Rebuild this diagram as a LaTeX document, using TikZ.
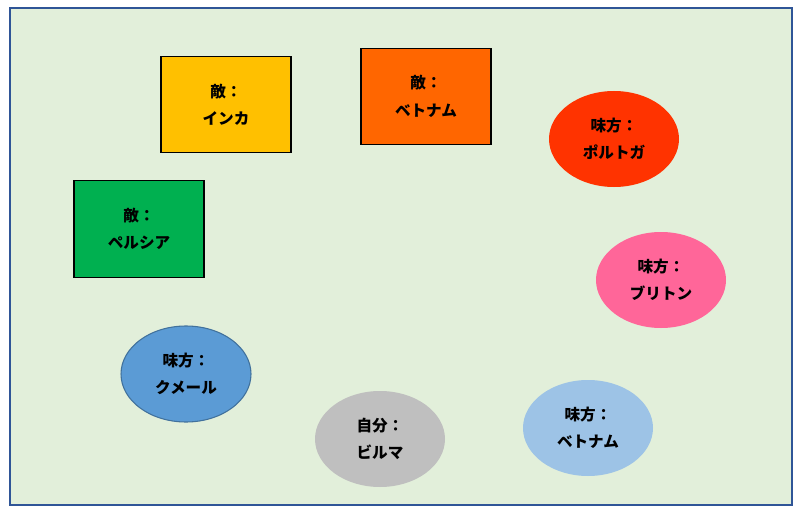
\documentclass[tikz,border=0pt]{standalone}
\usepackage{fontspec}
\setmainfont{Noto Sans CJK JP}
\usetikzlibrary{shapes.geometric}
\definecolor{bgfill}{HTML}{E2EFDA}
\definecolor{bgline}{HTML}{2F5597}
\definecolor{cinca}{HTML}{FFC000}
\definecolor{cviet}{HTML}{FF6600}
\definecolor{cpers}{HTML}{00B050}
\definecolor{cport}{HTML}{FF3300}
\definecolor{cbrit}{HTML}{FF6699}
\definecolor{ckhm}{HTML}{5B9BD5}
\definecolor{ckhmline}{HTML}{41719C}
\definecolor{cbur}{HTML}{BFBFBF}
\definecolor{cvt2}{HTML}{9DC3E6}
\tikzset{
  lbl/.style={align=center, font=\fontsize{11.7}{20.5}\selectfont\bfseries, text=black},
  enemy/.style={lbl, rectangle, draw=black, line width=0.9pt, minimum width=97.5pt, minimum height=72.5pt, inner sep=0pt},
  ally/.style={lbl, ellipse, minimum width=97.5pt, minimum height=72pt, inner sep=0pt}
}
\begin{document}
\begin{tikzpicture}[x=0.75pt,y=-0.75pt]
\useasboundingbox (0,0) rectangle (800,510);
\node[draw=bgline, fill=bgfill, line width=1pt, rectangle, minimum width=586.5pt, minimum height=372.75pt, inner sep=0pt] (bg) at (401,256.5) {};
\node[enemy, fill=cinca] (inca) at (226,104.5) {敵：\\インカ};
\node[enemy, fill=cviet] (vietE) at (426,96.5) {敵：\\ベトナム};
\node[enemy, fill=cpers] (pers) at (139,229) {敵：\\ペルシア};
\node[ally, fill=cport] (port) at (614,139) {味方：\\ポルトガ};
\node[ally, fill=cbrit] (brit) at (661,280) {味方：\\ブリトン};
\node[ally, fill=ckhm, draw=ckhmline, line width=0.8pt] (khm) at (186,374) {味方：\\クメール};
\node[ally, fill=cbur] (bur) at (380,439) {自分：\\ビルマ};
\node[ally, fill=cvt2] (vietA) at (588,428) {味方：\\ベトナム};
\end{tikzpicture}
\end{document}
